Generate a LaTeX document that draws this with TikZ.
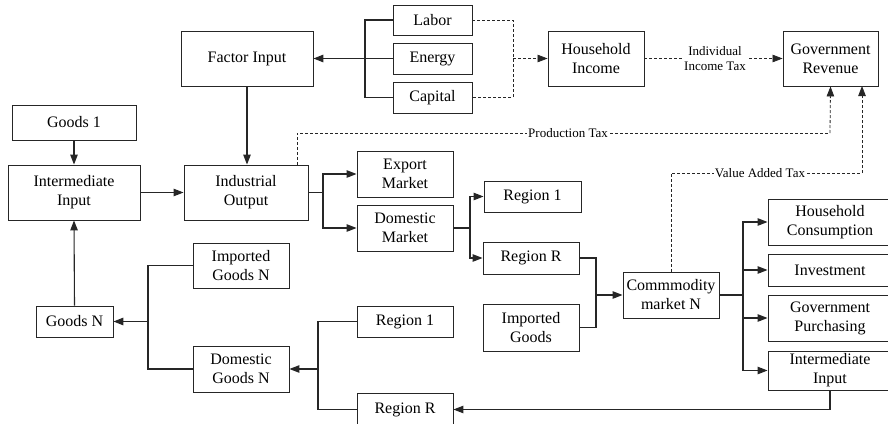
\documentclass[tikz,border=0pt]{standalone}
\usepackage{fontspec}
\setmainfont{Liberation Serif}
\usetikzlibrary{arrows.meta,calc}
\tikzset{
  box/.style={draw=black!85, line width=0.9pt, inner sep=0pt, align=center,
    font=\fontsize{16}{19}\selectfont, text=black},
  conn/.style={draw=black!85, line width=1.1pt},
  arr/.style={conn, -{Triangle[length=10pt,width=7.5pt]}},
  tax/.style={draw=black!85, line width=0.8pt, dash pattern=on 3pt off 2pt},
  taxarr/.style={tax, -{Triangle[length=10pt,width=7.5pt]}},
  lbl/.style={fill=white, inner sep=1pt, align=center, font=\fontsize{13}{15}\selectfont},
}
\begin{document}
\begin{tikzpicture}[x=1pt,y=-1pt]
\useasboundingbox (0,0) rectangle (888,423);
\clip (0,0) rectangle (888,423);
\fill[white] (0,0) rectangle (888,423);
% boxes
\node[box, minimum width=79pt, minimum height=30pt] (labor) at (432.5,20) {Labor};
\node[box, minimum width=79pt, minimum height=31pt] (energy) at (432.5,58.5) {Energy};
\node[box, minimum width=79pt, minimum height=31pt] (capital) at (432.5,97.5) {Capital};
\node[box, minimum width=132pt, minimum height=55pt] (factor) at (247,58.5) {Factor Input};
\node[box, minimum width=96pt, minimum height=55pt] (hinc) at (596,58.5) {Household\\Income};
\node[box, minimum width=95pt, minimum height=55pt] (grev) at (830.5,58.5) {Government\\Revenue};
\node[box, minimum width=124pt, minimum height=35pt] (goodsone) at (74,122.5) {Goods 1};
\node[box, minimum width=132pt, minimum height=55pt] (interm) at (74,192.5) {Intermediate\\Input};
\node[box, minimum width=124pt, minimum height=55pt] (indout) at (246,192.5) {Industrial\\Output};
\node[box, minimum width=96pt, minimum height=46pt] (export) at (405,174) {Export\\Market};
\node[box, minimum width=96pt, minimum height=46pt] (domestic) at (405,228) {Domestic\\Market};
\node[box, minimum width=97pt, minimum height=31pt] (regonea) at (532.5,196.5) {Region 1};
\node[box, minimum width=96pt, minimum height=32pt] (regRa) at (531,258) {Region R};
\node[box, minimum width=96pt, minimum height=47pt] (impgoods) at (531,327.5) {Imported\\Goods};
\node[box, minimum width=96pt, minimum height=46pt] (comm) at (671,295) {Commmodity\\market N};
\node[box, minimum width=124pt, minimum height=46pt] (hcons) at (830,222) {Household\\Consumption};
\node[box, minimum width=124pt, minimum height=32pt] (invest) at (830,270) {Investment};
\node[box, minimum width=124pt, minimum height=46pt] (gpurch) at (830,318) {Government\\Purchasing};
\node[box, minimum width=124pt, minimum height=39pt] (intermtwo) at (830,370.5) {Intermediate\\Input};
\node[box, minimum width=96pt, minimum height=45pt] (impN) at (241,265.5) {Imported\\Goods N};
\node[box, minimum width=77pt, minimum height=31pt] (goodsN) at (74.5,321.5) {Goods N};
\node[box, minimum width=96pt, minimum height=46pt] (domN) at (241,369) {Domestic\\Goods N};
\node[box, minimum width=96pt, minimum height=31pt] (regoneb) at (405,321.5) {Region 1};
\node[box, minimum width=96pt, minimum height=33pt] (regRb) at (405,409.5) {Region R};
% junction coordinates
\coordinate (fj) at (365,58.5);
\coordinate (dj) at (513,58.5);
\coordinate (oj) at (323,192.5);
\coordinate (mj) at (470,228);
\coordinate (rj) at (596,295);
\coordinate (cj) at (743,295);
\coordinate (bj) at (318,369);
\coordinate (gj) at (148,321.5);
\coordinate (ptx) at (297,133);
\coordinate (vtx) at (671,173);
% factor inputs
\draw[conn] (labor.west) -| (fj) |- (capital.west);
\draw[conn] (energy.west) -- (fj);
\draw[arr, line width=1.5pt] (fj) -- (factor.east);
\draw[tax] (labor.east) -| (dj) |- (capital.east);
\draw[taxarr] (dj) -- (hinc.west);
\draw[taxarr] (hinc.east) -- (grev.west);
\node[lbl] (iit) at (715,59) {Individual\\Income Tax};
% production side
\draw[arr] (factor.south) -- (factor.south |- indout.north);
\draw[arr] (goodsone.south) -- (interm.north);
\draw[arr] (interm.east) -- (indout.west);
\draw[arr] (goodsN.north) -- (interm.south);
\draw[conn] (indout.east) -- (oj);
\draw[arr] (oj) |- (export.west);
\draw[arr] (oj) |- (domestic.west);
\draw[conn] (domestic.east) -- (mj);
\draw[arr] (mj) |- (regonea.west);
\draw[arr] (mj) |- (regRa.west);
\draw[conn] (regRa.east) -| (rj);
\draw[conn] (impgoods.east) -| (rj);
\draw[arr] (rj) -- (comm.west);
\draw[conn] (comm.east) -- (cj);
\draw[arr] (cj) |- (hcons.west);
\draw[arr] (cj) |- (invest.west);
\draw[arr] (cj) |- (gpurch.west);
\draw[arr] (cj) |- (intermtwo.west);
\draw[arr] (intermtwo.south) |- (regRb.east);
\draw[conn] (regRb.west) -| (bj);
\draw[conn] (regoneb.west) -| (bj);
\draw[arr] (bj) -- (domN.east);
\draw[conn] (impN.west) -| (gj);
\draw[conn] (domN.west) -| (gj);
\draw[arr, line width=1.5pt] (gj) -- (goodsN.east);
% taxes
\draw[tax] (ptx |- indout.north) -- (ptx) -- (830,133);
\draw[taxarr] (830,133) -- (grev.south);
\node[lbl] (ptax) at (568,133) {Production Tax};
\draw[tax] (comm.north) -- (vtx) -- (862,173);
\draw[taxarr] (862,173) -- (862,86);
\node[lbl] (vat) at (760,173) {Value Added Tax};
\end{tikzpicture}
\end{document}
